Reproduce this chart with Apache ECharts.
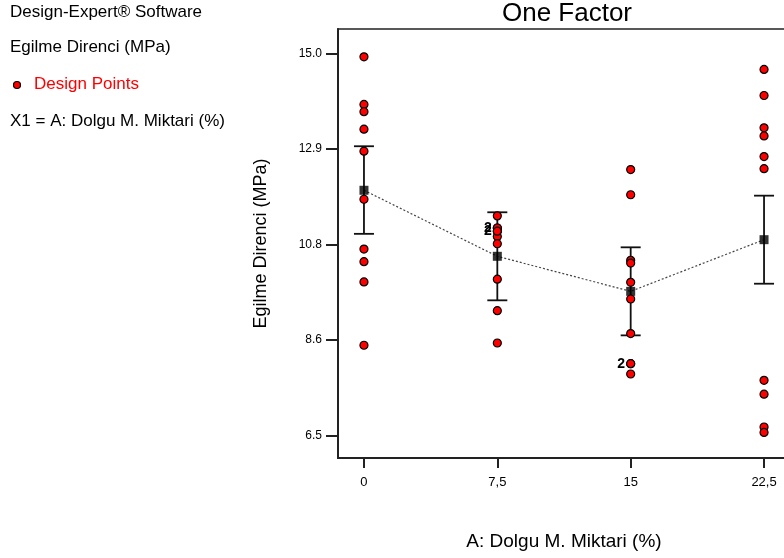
<!DOCTYPE html>
<html>
<head>
<meta charset="utf-8">
<script src="https://cdn.jsdelivr.net/npm/echarts@6/dist/echarts.min.js"></script>
<style>
  html, body { margin: 0; padding: 0; background: #fff; }
  #main { width: 784px; height: 558px; }
</style>
</head>
<body>
<div id="main"></div>
<script>
// factor levels (A: Dolgu M. Miktari %)
const levels = [0, 7.5, 15, 22.5];
const xTicks = [0, 7.5, 15, 22.5];
const yTicks = [6.5, 8.625, 10.75, 12.875, 15.0];

// design points per level (MPa)
const pts0 = [14.93, 13.87, 13.71, 13.32, 12.83, 11.76, 10.65, 10.37, 9.92, 8.51];
const pts75 = [11.39, 11.12, 11.05, 10.93, 10.77, 9.98, 9.28, 8.56];
const pts15 = [12.42, 11.86, 10.40, 10.34, 9.91, 9.54, 8.77, 8.10, 7.87];
const pts225 = [14.65, 14.07, 13.35, 13.17, 12.71, 12.44, 7.73, 7.42, 6.69, 6.57];

// points that occur twice (shown with a "2")
const dupX = [7.5, 7.5, 15];
const dupY = [11.12, 11.05, 8.10];

// predicted means and LSD bars
const means = [11.96, 10.49, 9.71, 10.86];
const barLow = [10.99, 9.51, 8.73, 9.88];
const barHigh = [12.94, 11.47, 10.69, 11.84];

const groups = [pts0, pts75, pts15, pts225];
const pointData = [];
groups.forEach((g, i) => {
  g.forEach(v => pointData.push([levels[i], v]));
});
const dupData = dupX.map((x, i) => [x, dupY[i]]);
const meanData = levels.map((x, i) => [x, means[i]]);
const barData = levels.map((x, i) => [x, barLow[i], barHigh[i]]);

const chart = echarts.init(document.getElementById('main'));
const FONT = '"Liberation Sans", Arial, sans-serif';

chart.setOption({
  animation: false,
  textStyle: { fontFamily: FONT },
  title: {
    text: 'One Factor',
    left: 562,
    top: -4,
    textAlign: 'center',
    textStyle: { fontSize: 26, fontWeight: 'normal', color: '#000', fontFamily: FONT }
  },
  grid: {
    left: 338, top: 29, width: 452, height: 429,
    outerBoundsMode: 'none',
    containLabel: false,
    show: true, borderColor: '#222', borderWidth: 1.5
  },
  xAxis: {
    type: 'value',
    min: -1.46,
    max: 23.96,
    name: 'A: Dolgu M. Miktari (%)',
    nameLocation: 'middle',
    nameGap: 74,
    nameTextStyle: { fontSize: 19, color: '#000', fontFamily: FONT },
    axisLine: { onZero: false, lineStyle: { color: '#222', width: 2 } },
    axisTick: { show: true, length: 10, customValues: xTicks, lineStyle: { color: '#222', width: 2 } },
    axisLabel: {
      customValues: xTicks,
      margin: 18,
      fontSize: 13,
      color: '#000',
      formatter: v => String(v).replace('.', ',')
    },
    splitLine: { show: false }
  },
  yAxis: {
    type: 'value',
    min: 6.0,
    max: 15.55,
    name: 'Egilme Direnci (MPa)',
    nameLocation: 'middle',
    nameGap: 68,
    nameTextStyle: { fontSize: 18, color: '#000', fontFamily: FONT },
    axisLine: { onZero: false, lineStyle: { color: '#222', width: 2 } },
    axisTick: { show: true, length: 12, customValues: yTicks, lineStyle: { color: '#222', width: 2 } },
    axisLabel: {
      customValues: yTicks,
      margin: 16,
      fontSize: 12,
      color: '#000',
      formatter: v => v.toFixed(1)
    },
    splitLine: { show: false }
  },
  graphic: [
    { type: 'text', left: 10, top: 4, style: { text: 'Design-Expert® Software', font: '17px ' + FONT, fill: '#000' } },
    { type: 'text', left: 10, top: 39, style: { text: 'Egilme Direnci (MPa)', font: '17px ' + FONT, fill: '#000' } },
    { type: 'circle', shape: { cx: 17, cy: 85, r: 3.5 }, style: { fill: '#ff0000', stroke: '#000', lineWidth: 1.2 } },
    { type: 'text', left: 34, top: 76, style: { text: 'Design Points', font: '17px ' + FONT, fill: '#ff0000' } },
    { type: 'text', left: 10, top: 113, style: { text: 'X1 = A: Dolgu M. Miktari (%)', font: '17px ' + FONT, fill: '#000' } }
  ],
  series: [
    {
      type: 'line',
      data: meanData,
      symbol: 'none',
      lineStyle: { color: '#444', width: 1.2, type: [2, 2] },
      z: 1
    },
    {
      type: 'custom',
      data: barData,
      z: 2,
      renderItem: (params, api) => {
        const x = api.value(0);
        const lo = api.coord([x, api.value(1)]);
        const hi = api.coord([x, api.value(2)]);
        const half = 10;
        const st = { stroke: '#111', lineWidth: 1.8 };
        return {
          type: 'group',
          children: [
            { type: 'line', shape: { x1: lo[0], y1: lo[1], x2: hi[0], y2: hi[1] }, style: st },
            { type: 'line', shape: { x1: lo[0] - half, y1: lo[1], x2: lo[0] + half, y2: lo[1] }, style: st },
            { type: 'line', shape: { x1: hi[0] - half, y1: hi[1], x2: hi[0] + half, y2: hi[1] }, style: st }
          ]
        };
      }
    },
    {
      type: 'scatter',
      data: meanData,
      symbol: 'rect',
      symbolSize: 9,
      itemStyle: { color: '#000' },
      z: 3
    },
    {
      type: 'scatter',
      data: pointData,
      symbol: 'circle',
      symbolSize: 8,
      itemStyle: { color: '#ff0000', borderColor: '#000', borderWidth: 1.2, opacity: 1 },
      z: 4
    },
    {
      type: 'scatter',
      data: dupData,
      symbol: 'circle',
      symbolSize: 8,
      itemStyle: { color: '#ff0000', borderColor: '#000', borderWidth: 1.2, opacity: 1 },
      label: {
        show: true,
        position: 'left',
        distance: 1,
        formatter: '2',
        fontSize: 14,
        fontWeight: 'bold',
        color: '#000'
      },
      z: 5
    }
  ]
});
</script>
</body>
</html>
